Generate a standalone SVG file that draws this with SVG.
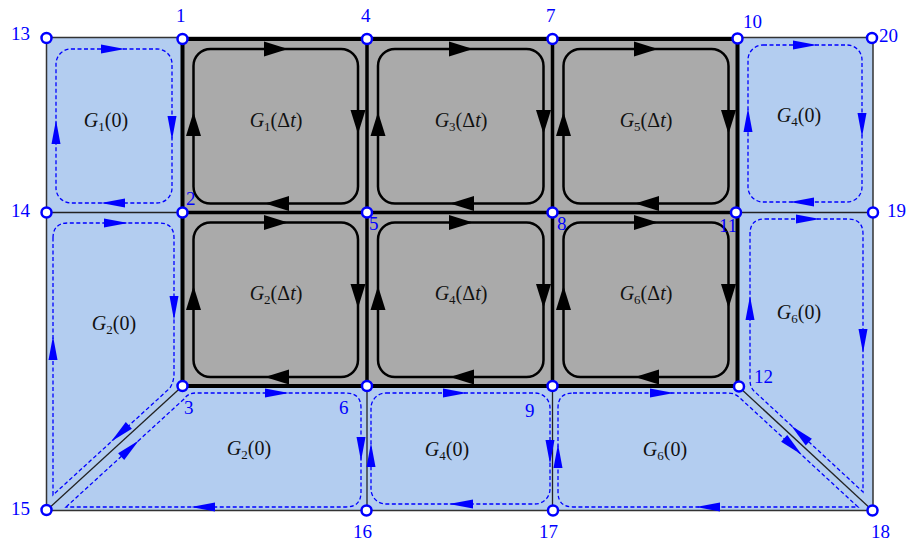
<svg xmlns="http://www.w3.org/2000/svg" xmlns:xlink="http://www.w3.org/1999/xlink" width="907" height="546" viewBox="0 0 907 546">
  <style>
    .frame { fill: #b3cdf0; stroke: #333; stroke-width: 1.5; }
    .core { fill: #aaaaaa; stroke: #000; stroke-width: 4; }
    .grid { stroke: #000; stroke-width: 3.5; fill: none; }
    .edge { stroke: #222; stroke-width: 1.3; fill: none; }
    .loop { fill: none; stroke: #000; stroke-width: 2.5; }
    .dloop { fill: none; stroke: #0000ff; stroke-width: 1.3; stroke-dasharray: 4 2.5; }
    .node { fill: #fff; stroke: #0000ff; stroke-width: 2.5; }
    .nlabel { font-family: "Liberation Serif", "Times New Roman", serif; font-size: 19px; fill: #0000ff; }
    .glabel { font-family: "Liberation Serif", "Times New Roman", serif; font-size: 20px; fill: #111; text-anchor: middle; }
    .sub { font-size: 13px; }
    .it { font-style: italic; }
  </style>
  <defs>
    <path id="ahb" d="M-12,-4.5 L12,0 L-12,4.5 Z" fill="#0000ff"/>
    <path id="ahk" d="M-12,-7.5 L12,0 L-12,7.5 Z" fill="#000"/>
  </defs>

  <!-- outer domain and refined core -->
  <rect class="frame" x="46.5" y="37.5" width="826.5" height="473"/>
  <rect class="core" x="182.5" y="39" width="555" height="347"/>
  <g id="core-grid" class="grid">
    <line x1="367" y1="39" x2="367" y2="386"/>
    <line x1="552.5" y1="39" x2="552.5" y2="386"/>
    <line x1="182.5" y1="212.5" x2="737.5" y2="212.5"/>
  </g>

  <!-- connectors -->
  <g id="connectors" class="edge">
    <line x1="46.5" y1="212.5" x2="182.5" y2="212.5"/>
    <line x1="737.5" y1="212.5" x2="873" y2="212.5"/>
    <line x1="182.5" y1="386" x2="46.5" y2="510.5"/>
    <line x1="738.5" y1="386.5" x2="872.5" y2="510.5"/>
    <line x1="367" y1="386" x2="367" y2="510.5"/>
    <line x1="552.5" y1="386" x2="552.5" y2="510.5"/>
  </g>

  <!-- core cells with solid circulation loops -->
  <g id="cell-G1dt">
    <rect class="loop" x="193.5" y="49" width="164.5" height="154.5" rx="17"/>
    <use href="#ahk" transform="translate(276,49)"/>
    <use href="#ahk" transform="translate(358,122) rotate(90)"/>
    <use href="#ahk" transform="translate(277,203.5) rotate(180)"/>
    <use href="#ahk" transform="translate(193.5,124) rotate(-90)"/>
    <text class="glabel" x="276" y="127"><tspan class="it">G</tspan><tspan class="sub" dy="4">1</tspan><tspan dy="-4">(Δ</tspan><tspan class="it">t</tspan>)</text>
  </g>
  <g id="cell-G3dt">
    <rect class="loop" x="378" y="49" width="165.5" height="154.5" rx="17"/>
    <use href="#ahk" transform="translate(461,49)"/>
    <use href="#ahk" transform="translate(543.5,122) rotate(90)"/>
    <use href="#ahk" transform="translate(462,203.5) rotate(180)"/>
    <use href="#ahk" transform="translate(378,124) rotate(-90)"/>
    <text class="glabel" x="461" y="127"><tspan class="it">G</tspan><tspan class="sub" dy="4">3</tspan><tspan dy="-4">(Δ</tspan><tspan class="it">t</tspan>)</text>
  </g>
  <g id="cell-G5dt">
    <rect class="loop" x="563.5" y="49" width="165" height="154.5" rx="17"/>
    <use href="#ahk" transform="translate(646,49)"/>
    <use href="#ahk" transform="translate(728.5,122) rotate(90)"/>
    <use href="#ahk" transform="translate(647,203.5) rotate(180)"/>
    <use href="#ahk" transform="translate(563.5,124) rotate(-90)"/>
    <text class="glabel" x="646" y="127"><tspan class="it">G</tspan><tspan class="sub" dy="4">5</tspan><tspan dy="-4">(Δ</tspan><tspan class="it">t</tspan>)</text>
  </g>
  <g id="cell-G2dt">
    <rect class="loop" x="193.5" y="222.5" width="164.5" height="154.5" rx="17"/>
    <use href="#ahk" transform="translate(276,222.5)"/>
    <use href="#ahk" transform="translate(358,296) rotate(90)"/>
    <use href="#ahk" transform="translate(277,377) rotate(180)"/>
    <use href="#ahk" transform="translate(193.5,298) rotate(-90)"/>
    <text class="glabel" x="276" y="300"><tspan class="it">G</tspan><tspan class="sub" dy="4">2</tspan><tspan dy="-4">(Δ</tspan><tspan class="it">t</tspan>)</text>
  </g>
  <g id="cell-G4dt">
    <rect class="loop" x="378" y="222.5" width="165.5" height="154.5" rx="17"/>
    <use href="#ahk" transform="translate(461,222.5)"/>
    <use href="#ahk" transform="translate(543.5,296) rotate(90)"/>
    <use href="#ahk" transform="translate(462,377) rotate(180)"/>
    <use href="#ahk" transform="translate(378,298) rotate(-90)"/>
    <text class="glabel" x="461" y="300"><tspan class="it">G</tspan><tspan class="sub" dy="4">4</tspan><tspan dy="-4">(Δ</tspan><tspan class="it">t</tspan>)</text>
  </g>
  <g id="cell-G6dt">
    <rect class="loop" x="563.5" y="222.5" width="165" height="154.5" rx="17"/>
    <use href="#ahk" transform="translate(646,222.5)"/>
    <use href="#ahk" transform="translate(728.5,296) rotate(90)"/>
    <use href="#ahk" transform="translate(647,377) rotate(180)"/>
    <use href="#ahk" transform="translate(563.5,298) rotate(-90)"/>
    <text class="glabel" x="646" y="300"><tspan class="it">G</tspan><tspan class="sub" dy="4">6</tspan><tspan dy="-4">(Δ</tspan><tspan class="it">t</tspan>)</text>
  </g>

  <!-- outer cells with dashed circulation loops -->
  <g id="cell-G1-0">
    <rect class="dloop" x="56" y="49" width="116" height="154" rx="15"/>
    <use href="#ahb" transform="translate(113,49)"/>
    <use href="#ahb" transform="translate(172,128) rotate(90)"/>
    <use href="#ahb" transform="translate(113,203) rotate(180)"/>
    <use href="#ahb" transform="translate(56,132) rotate(-90)"/>
    <text class="glabel" x="106" y="127"><tspan class="it">G</tspan><tspan class="sub" dy="4">1</tspan><tspan dy="-4">(0)</tspan></text>
  </g>
  <g id="cell-G4-0-top">
    <rect class="dloop" x="748" y="45" width="114" height="157" rx="15"/>
    <use href="#ahb" transform="translate(805,45)"/>
    <use href="#ahb" transform="translate(862,125) rotate(90)"/>
    <use href="#ahb" transform="translate(802,202) rotate(180)"/>
    <use href="#ahb" transform="translate(748,120) rotate(-90)"/>
    <text class="glabel" x="799" y="122"><tspan class="it">G</tspan><tspan class="sub" dy="4">4</tspan><tspan dy="-4">(0)</tspan></text>
  </g>
  <g id="cell-G2-0-left">
    <path class="dloop" d="M53,238 Q53,223 68,223 L159,223 Q174,223 174,238 L174,374 Q174,381 170,388 L53,495 Z"/>
    <use href="#ahb" transform="translate(116,223)"/>
    <use href="#ahb" transform="translate(174,308) rotate(90)"/>
    <use href="#ahb" transform="translate(53,348) rotate(-90)"/>
    <use href="#ahb" transform="translate(120,433.5) rotate(137.5)"/>
    <text class="glabel" x="114" y="330"><tspan class="it">G</tspan><tspan class="sub" dy="4">2</tspan><tspan dy="-4">(0)</tspan></text>
  </g>
  <g id="cell-G2-0-bottom">
    <path class="dloop" d="M66,507 L184,399 Q188,393 196,393 L346,393 Q361,393 361,408 L361,492 Q361,507 346,507 Z"/>
    <use href="#ahb" transform="translate(277,393)"/>
    <use href="#ahb" transform="translate(361,449) rotate(90)"/>
    <use href="#ahb" transform="translate(203,507) rotate(180)"/>
    <use href="#ahb" transform="translate(130,448.5) rotate(-42.5)"/>
    <text class="glabel" x="249" y="455"><tspan class="it">G</tspan><tspan class="sub" dy="4">2</tspan><tspan dy="-4">(0)</tspan></text>
  </g>
  <g id="cell-G4-0-bottom">
    <rect class="dloop" x="371" y="393" width="179" height="111" rx="15"/>
    <use href="#ahb" transform="translate(455,393)"/>
    <use href="#ahb" transform="translate(550,452) rotate(90)"/>
    <use href="#ahb" transform="translate(461,504) rotate(180)"/>
    <use href="#ahb" transform="translate(371,455) rotate(-90)"/>
    <text class="glabel" x="447" y="456"><tspan class="it">G</tspan><tspan class="sub" dy="4">4</tspan><tspan dy="-4">(0)</tspan></text>
  </g>
  <g id="cell-G6-0-bottom">
    <path class="dloop" d="M573,393 L728,393 Q735,393 740,398 L858,507 L573,507 Q558,507 558,492 L558,408 Q558,393 573,393 Z"/>
    <use href="#ahb" transform="translate(662,393)"/>
    <use href="#ahb" transform="translate(793,446.5) rotate(42.8)"/>
    <use href="#ahb" transform="translate(708,507) rotate(180)"/>
    <use href="#ahb" transform="translate(558,456) rotate(-90)"/>
    <text class="glabel" x="665" y="456"><tspan class="it">G</tspan><tspan class="sub" dy="4">6</tspan><tspan dy="-4">(0)</tspan></text>
  </g>
  <g id="cell-G6-0-right">
    <path class="dloop" d="M765,219 L848,219 Q863,219 863,234 L863,492 L754,391 Q750,387 750,380 L750,234 Q750,219 765,219 Z"/>
    <use href="#ahb" transform="translate(808,219)"/>
    <use href="#ahb" transform="translate(863,341) rotate(90)"/>
    <use href="#ahb" transform="translate(750,308) rotate(-90)"/>
    <use href="#ahb" transform="translate(800,434) rotate(-137.2)"/>
    <text class="glabel" x="799" y="319"><tspan class="it">G</tspan><tspan class="sub" dy="4">6</tspan><tspan dy="-4">(0)</tspan></text>
  </g>

  <!-- mesh nodes -->
  <g id="n1"><circle class="node" cx="182.5" cy="39" r="5"/><text class="nlabel" x="176" y="22">1</text></g>
  <g id="n2"><circle class="node" cx="182.5" cy="212.5" r="5"/><text class="nlabel" x="186" y="205">2</text></g>
  <g id="n3"><circle class="node" cx="182.5" cy="386" r="5"/><text class="nlabel" x="184" y="414">3</text></g>
  <g id="n4"><circle class="node" cx="367" cy="39" r="5"/><text class="nlabel" x="361" y="22">4</text></g>
  <g id="n5"><circle class="node" cx="367" cy="212.5" r="5"/><text class="nlabel" x="369" y="230">5</text></g>
  <g id="n6"><circle class="node" cx="367" cy="386" r="5"/><text class="nlabel" x="339" y="414">6</text></g>
  <g id="n7"><circle class="node" cx="552.5" cy="39" r="5"/><text class="nlabel" x="546" y="22">7</text></g>
  <g id="n8"><circle class="node" cx="552.5" cy="212.5" r="5"/><text class="nlabel" x="557" y="230">8</text></g>
  <g id="n9"><circle class="node" cx="552.5" cy="386" r="5"/><text class="nlabel" x="525" y="417">9</text></g>
  <g id="n10"><circle class="node" cx="737.5" cy="38.5" r="5"/><text class="nlabel" x="743" y="28">10</text></g>
  <g id="n11"><circle class="node" cx="736" cy="212.5" r="5"/><text class="nlabel" x="719" y="232">11</text></g>
  <g id="n12"><circle class="node" cx="739" cy="386.5" r="5"/><text class="nlabel" x="754" y="383">12</text></g>
  <g id="n13"><circle class="node" cx="46.5" cy="38" r="5"/><text class="nlabel" x="11" y="40">13</text></g>
  <g id="n14"><circle class="node" cx="46.5" cy="212.5" r="5"/><text class="nlabel" x="11" y="217">14</text></g>
  <g id="n15"><circle class="node" cx="46.5" cy="510" r="5"/><text class="nlabel" x="11" y="515">15</text></g>
  <g id="n16"><circle class="node" cx="366.5" cy="510.5" r="5"/><text class="nlabel" x="353" y="538">16</text></g>
  <g id="n17"><circle class="node" cx="553" cy="510.5" r="5"/><text class="nlabel" x="539" y="538">17</text></g>
  <g id="n18"><circle class="node" cx="872.5" cy="510.5" r="5"/><text class="nlabel" x="871" y="538">18</text></g>
  <g id="n19"><circle class="node" cx="873" cy="212.5" r="5"/><text class="nlabel" x="887" y="217">19</text></g>
  <g id="n20"><circle class="node" cx="872" cy="38" r="5"/><text class="nlabel" x="879" y="42">20</text></g>
</svg>
